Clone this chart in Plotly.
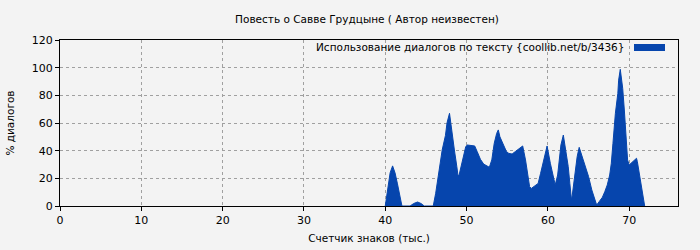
import plotly.graph_objects as go

title_text = "Повесть о Савве Грудцыне ( Автор неизвестен)"
x_title = "Счетчик знаков (тыс.)"
y_title = "% диалогов"
legend_text = "Использование диалогов по тексту {coollib.net/b/3436}"

x_vals = [40.0, 40.3, 40.6, 40.9, 41.2, 41.5, 41.8, 42.05,
          43.05, 43.5, 43.97, 44.4, 44.8,
          45.9, 46.2, 46.6, 47.0, 47.4, 47.6, 47.9, 48.2, 48.5, 48.8, 48.95,
          49.1, 49.3, 49.6, 49.9, 50.1, 50.6, 51.0, 51.3, 51.7, 52.1, 52.5, 52.8,
          53.1, 53.4, 53.7, 53.9, 54.1, 54.6, 54.9, 55.2, 55.6, 56.0, 56.4, 56.9,
          57.25, 57.5, 57.75, 57.96, 58.3, 58.8, 59.1, 59.5, 59.9, 60.3, 60.7, 60.9,
          61.2, 61.4, 61.6, 61.9, 62.2, 62.5, 62.7, 62.9, 63.0, 63.3, 63.6, 63.85,
          64.2, 64.6, 65.0, 65.4, 65.8, 66.0, 66.3, 66.7, 67.0, 67.3, 67.6, 67.8,
          68.0, 68.3, 68.6, 68.7, 68.9, 69.2, 69.4, 69.6, 69.8, 70.0, 70.35, 70.7,
          70.9, 71.0, 71.25, 71.5, 71.7, 71.9]
y_vals = [0, 12, 24, 29, 24, 16, 6, 0,
          0, 1.8, 2.9, 1.8, 0,
          0, 9.2, 24.8, 40.5, 51, 60.2, 67, 52.5, 40.5, 28.5, 21.7,
          22.9, 28.5, 34.5, 43, 44.1, 43.6, 43.4, 39.4, 33.8, 30.3, 29, 28,
          33.3, 45.3, 52.5, 55, 50, 44.1, 39.4, 38, 37.6, 39.4, 41, 43.4,
          33.3, 25, 14, 12.7, 14.4, 16.3, 23.6, 33.3, 43.4, 30.9, 21.3, 15.2,
          22.4, 33.3, 44.1, 51.3, 40.5, 28.5, 16.3, 4.3, 7.9, 23.6, 35.7, 42.4,
          35.7, 28.5, 21.3, 11.6, 4.3, 0.7, 3.1, 6.3, 10.4, 15.2, 22.4, 30.9,
          45.3, 67, 81.4, 91, 98.8, 85, 69.4, 50.1, 33.3, 29.7, 31.4, 33.3,
          34.5, 32.1, 23.6, 15.2, 6.7, 0]

x_range = [0, 76]
y_range = [0, 120]

blue = "#0645AD"
bg = "#f3f3f3"

fig = go.Figure()
fig.add_trace(go.Scatter(
    x=x_vals, y=y_vals, mode="lines", fill="tozeroy",
    line=dict(color=blue, width=1), fillcolor=blue,
    name=legend_text, showlegend=False, hoverinfo="skip"))

axis_common = dict(
    showline=True, linecolor="black", linewidth=1, mirror=True,
    ticks="outside", ticklen=4, tickcolor="black",
    showgrid=True, gridcolor="#a0a0a0", griddash="dot", gridwidth=1,
    zeroline=False, tickfont=dict(size=11, color="black"), automargin=False,
)

fig.update_layout(
    width=700, height=250,
    margin=dict(l=60, r=22, t=40, b=44),
    paper_bgcolor=bg, plot_bgcolor=bg,
    font=dict(family="DejaVu Sans", size=11, color="black"),
    title=dict(text=title_text, xref="container", x=367 / 700, xanchor="center",
               y=1 - 19/250, yanchor="middle", font=dict(size=10.5)),
    xaxis=dict(range=x_range, dtick=10, tick0=0,
               title=dict(text=x_title, standoff=8, font=dict(size=10.5)), **axis_common),
    yaxis=dict(range=y_range, dtick=20, tick0=0,
               title=dict(text=y_title, standoff=15, font=dict(size=10.5)), **axis_common),
    showlegend=False,
)

# legend box drawn at top right inside the plot
fig.add_annotation(xref="paper", yref="paper", x=(626 - 60) / 618, y=(206 - 47) / 166,
                   text=legend_text, showarrow=False, xanchor="right", yanchor="middle",
                   font=dict(size=10.5, color="black"))
fig.add_shape(type="rect", xref="paper", yref="paper",
              x0=(634 - 60) / 618, x1=(665 - 60) / 618,
              y0=(206 - 51) / 166, y1=(206 - 44) / 166,
              fillcolor=blue, line=dict(width=0))

fig.write_html("out.html")
